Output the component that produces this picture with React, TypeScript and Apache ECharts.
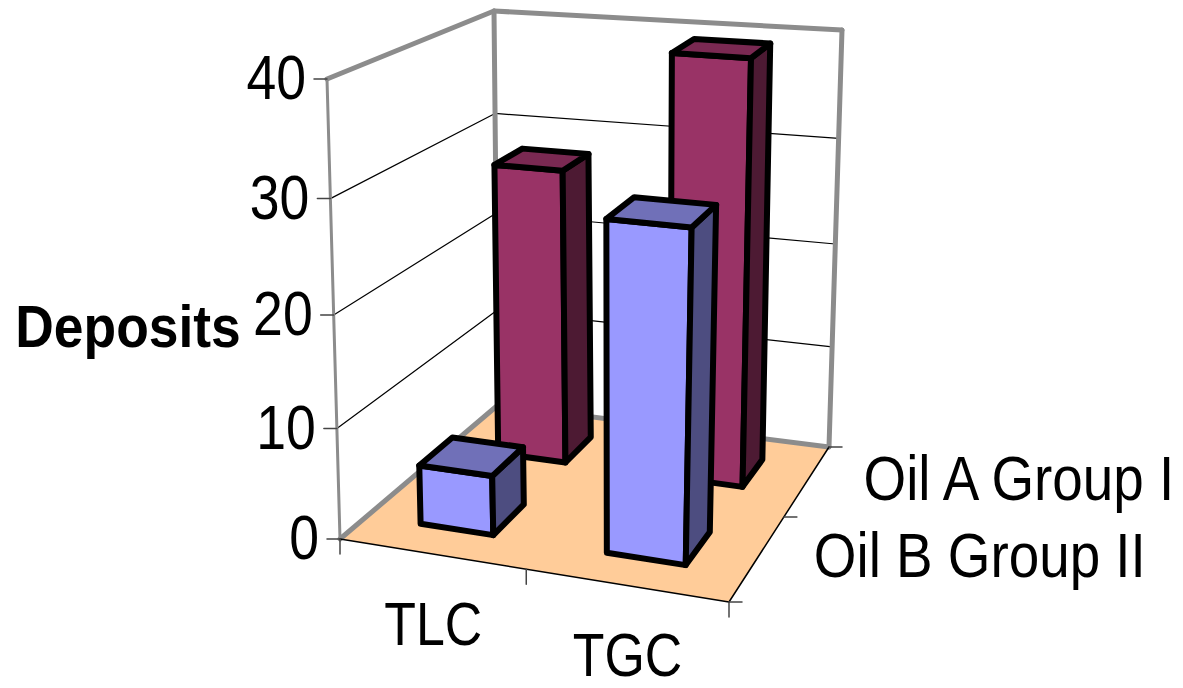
import React, { useEffect, useRef } from "react";
import * as echarts from "echarts";

const categories = ["TLC", "TGC"];
const seriesNames = ["Oil B Group II", "Oil A Group I"];
const oilB = [5.4, 29.1];
const oilA = [28, 39.4];
const yTicks = [0, 10, 20, 30, 40];
const yMax = 40;

type P = [number, number];
function makeHomography(p0: P, p1: P, p2: P, p3: P) {
  const dx1 = p1[0] - p2[0], dx2 = p3[0] - p2[0], sx = p0[0] - p1[0] + p2[0] - p3[0];
  const dy1 = p1[1] - p2[1], dy2 = p3[1] - p2[1], sy = p0[1] - p1[1] + p2[1] - p3[1];
  const den = dx1 * dy2 - dx2 * dy1;
  const g = (sx * dy2 - dx2 * sy) / den;
  const h = (dx1 * sy - sx * dy1) / den;
  const a = p1[0] - p0[0] + g * p1[0], b = p3[0] - p0[0] + h * p3[0], c = p0[0];
  const d = p1[1] - p0[1] + g * p1[1], e = p3[1] - p0[1] + h * p3[1], f = p0[1];
  return (u: number, v: number): P => {
    const w = g * u + h * v + 1;
    return [(a * u + b * v + c) / w, (d * u + e * v + f) / w];
  };
}
const floorAt = makeHomography([340, 539], [729, 602], [829, 447], [498, 405]);
const topAt = makeHomography([327, 79], [746, 116], [842, 30], [494, 11]);
function project(u: number, v: number, value: number): P {
  const t = value / yMax;
  const k = t / (t + (1 - t) * 1.054);
  const a = floorAt(u, v), b = topAt(u, v);
  return [a[0] + (b[0] - a[0]) * k, a[1] + (b[1] - a[1]) * k];
}

const GRAY = "#8c8c8c";
const FONT = '"Liberation Sans", Arial, sans-serif';
const line = (a: P, b: P, stroke: string, lineWidth: number) => ({
  type: "line",
  shape: { x1: a[0], y1: a[1], x2: b[0], y2: b[1] },
  style: { stroke, lineWidth, lineCap: "round" },
});
const poly = (points: P[], fill: string, stroke: string, lineWidth: number) => ({
  type: "polygon",
  shape: { points },
  style: { fill, stroke, lineWidth, lineJoin: "round" },
});
const label = (text: string, x: number, y: number, align: string, bold = false, size = 63, scaleX = 0.83) => ({
  type: "text",
  x,
  y,
  scaleX,
  style: {
    text,
    fill: "#000",
    font: `${bold ? "bold " : ""}${size}px ${FONT}`,
    lineHeight: Math.round(size * 0.85),
    align,
    verticalAlign: "middle",
  },
});

function renderFrame(_: any, api: any) {
  const i = api.value(0);
  if (i !== 0) return { type: "group", children: [] };
  const children: any[] = [];
  children.push(poly([floorAt(0, 0), floorAt(1, 0), floorAt(1, 1), floorAt(0, 1)], "#FFCC99", "none", 0));
  yTicks.forEach((tick) => {
    if (tick > 0 && tick < yMax) {
      children.push(line(project(0, 0, tick), project(0, 1, tick), "#000", 1.2));
      children.push(line(project(0, 1, tick), project(1, 1, tick), "#000", 1.2));
    }
  });
  children.push(line(project(0, 0, 0), project(0, 0, yMax), GRAY, 3));
  children.push(line(project(0, 1, 0), project(0, 1, yMax), GRAY, 5));
  children.push(line(project(1, 1, 0), project(1, 1, yMax), GRAY, 5));
  children.push(line(project(0, 0, yMax), project(0, 1, yMax), GRAY, 5));
  children.push(line(project(0, 1, yMax), project(1, 1, yMax), GRAY, 5));
  children.push(line(project(0, 0, 0), project(0, 1, 0), GRAY, 5));
  children.push(line(project(0, 1, 0), project(1, 1, 0), GRAY, 5));
  children.push(line(floorAt(0, 0), floorAt(1, 0), "#000", 1.5));
  children.push(line(floorAt(1, 0), floorAt(1, 1), "#000", 1.5));
  yTicks.forEach((tick) => {
    const p = project(0, 0, tick);
    children.push(line([p[0] - 13, p[1]], p, "#444", 1.5));
  });
  [0, 0.5, 1].forEach((u) => {
    const p = floorAt(u, 0);
    children.push(line(p, [p[0], p[1] + 15], "#444", 1.5));
  });
  [0, 0.5, 1].forEach((v) => {
    const p = floorAt(1, v);
    children.push(line(p, [p[0] + 13, p[1]], "#444", 1.5));
  });
  return { type: "group", children };
}

function barRenderer(vCenter: number, front: string, top: string, side: string) {
  return (_: any, api: any) => {
    const cat = api.value(0);
    const value = api.value(1);
    const uc = (cat + 0.5) / categories.length;
    const half = 0.1;
    const u0 = uc - half, u1 = uc + half, v0 = vCenter - half, v1 = vCenter + half;
    const fb0 = project(u0, v0, 0), fb1 = project(u1, v0, 0), bb1 = project(u1, v1, 0);
    const ft0 = project(u0, v0, value), ft1 = project(u1, v0, value);
    const bt0 = project(u0, v1, value), bt1 = project(u1, v1, value);
    return {
      type: "group",
      children: [
        poly([fb0, fb1, ft1, ft0], front, "#000", 6),
        poly([fb1, bb1, bt1, ft1], side, "#000", 6),
        poly([ft0, ft1, bt1, bt0], top, "#000", 6),
      ],
    };
  };
}

function renderLabels(_: any, api: any) {
  const kind = api.value(0);
  const idx = api.value(1);
  if (kind === 0) {
    const tick = yTicks[idx];
    const p = project(0, 0, tick);
    return label(String(tick), p[0] - 21, p[1] - 2, "right", false, 63, 0.85);
  }
  if (kind === 1) {
    const p = floorAt((idx + 0.5) / categories.length, 0);
    return label(categories[idx], p[0] + 2, p[1] + 70, "center", false, 61, 0.85);
  }
  if (kind === 2) {
    const p = floorAt(1, (idx + 0.5) / seriesNames.length);
    return label(seriesNames[idx], p[0] + 56, p[1] - 2, "left", false, 63, 0.87);
  }
  return label("Deposits", 128, 326, "center", true, 60, 0.89);
}

const labelRows = [
  ...yTicks.map((_, i) => [0, i]),
  ...categories.map((_, i) => [1, i]),
  ...seriesNames.map((_, i) => [2, i]),
  [3, 0],
];

export default function App() {
  const ref = useRef<HTMLDivElement>(null);
  useEffect(() => {
    document.body.style.margin = "0";
    const chart = echarts.init(ref.current!, undefined, { renderer: "svg" });
    chart.setOption({
      animation: false,
      backgroundColor: "#fff",
      series: [
        { type: "custom", coordinateSystem: "none", silent: true, data: [[0]], renderItem: renderFrame },
        {
          type: "custom", name: seriesNames[1], coordinateSystem: "none", silent: true,
          data: oilA.map((v, i) => [i, v]),
          renderItem: barRenderer(0.75, "#993366", "#7A2952", "#4D1A33"),
        },
        {
          type: "custom", name: seriesNames[0], coordinateSystem: "none", silent: true,
          data: oilB.map((v, i) => [i, v]),
          renderItem: barRenderer(0.25, "#9999FF", "#7070B8", "#4D4D80"),
        },
        { type: "custom", coordinateSystem: "none", silent: true, data: labelRows, renderItem: renderLabels },
      ],
    });
    return () => chart.dispose();
  }, []);
  return <div ref={ref} style={{ width: 1183, height: 688 }} />;
}
